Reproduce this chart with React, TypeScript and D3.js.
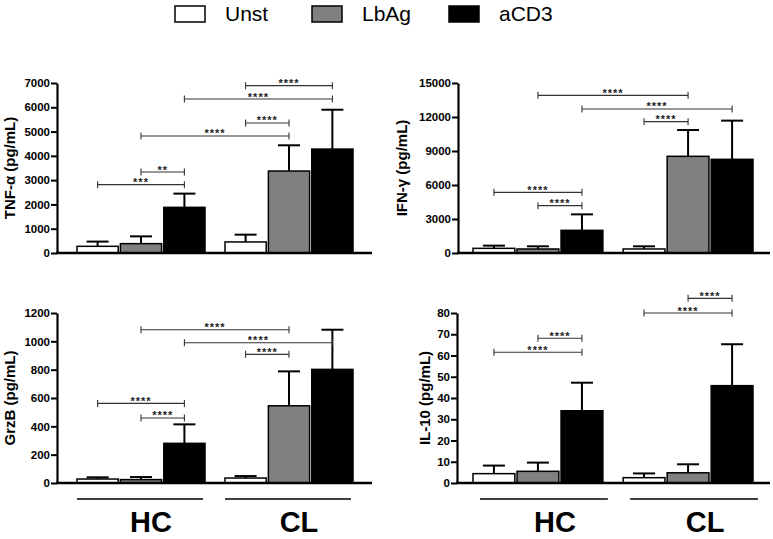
import { useEffect, useRef } from 'react';
import { select, scaleBand, scaleLinear, axisLeft } from 'd3';

// groups / stimulation series
const groups = ['HC', 'CL'];
const series = ['Unst', 'LbAg', 'aCD3'];
const seriesFill = ['#ffffff', '#808080', '#000000'];

// bar heights (mean) and top of the error bar, [group][series]
const tnfMean = [[275, 385, 1880], [455, 3375, 4280]];
const tnfUpper = [[470, 685, 2445], [755, 4435, 5900]];
const ifnMean = [[410, 355, 2000], [355, 8530, 8265]];
const ifnUpper = [[650, 590, 3410], [590, 10850, 11680]];
const grzbMean = [[28, 24, 280], [35, 545, 802]];
const grzbUpper = [[40, 42, 414], [49, 788, 1082]];
const il10Mean = [[4.4, 5.5, 34], [2.5, 4.8, 45.8]];
const il10Upper = [[8.2, 9.6, 47.2], [4.5, 8.8, 65.3]];

const tnfTicks = [0, 1000, 2000, 3000, 4000, 5000, 6000, 7000];
const ifnTicks = [0, 3000, 6000, 9000, 12000, 15000];
const grzbTicks = [0, 200, 400, 600, 800, 1000, 1200];
const il10Ticks = [0, 10, 20, 30, 40, 50, 60, 70, 80];

// significance brackets: [groupA, seriesA, groupB, seriesB, y value, stars]
type Sig = [string, string, string, string, number, string];
const tnfSig: Sig[] = [
  ['HC', 'Unst', 'HC', 'aCD3', 2814, '***'],
  ['HC', 'LbAg', 'HC', 'aCD3', 3335, '**'],
  ['HC', 'LbAg', 'CL', 'LbAg', 4818, '****'],
  ['CL', 'Unst', 'CL', 'LbAg', 5353, '****'],
  ['HC', 'aCD3', 'CL', 'aCD3', 6341, '****'],
  ['CL', 'Unst', 'CL', 'aCD3', 6890, '****'],
];
const ifnSig: Sig[] = [
  ['HC', 'Unst', 'HC', 'aCD3', 5353, '****'],
  ['HC', 'LbAg', 'HC', 'aCD3', 4176, '****'],
  ['CL', 'Unst', 'CL', 'LbAg', 11588, '****'],
  ['HC', 'aCD3', 'CL', 'aCD3', 12706, '****'],
  ['HC', 'LbAg', 'CL', 'LbAg', 13912, '****'],
];
const grzbSig: Sig[] = [
  ['HC', 'Unst', 'HC', 'aCD3', 562, '****'],
  ['HC', 'LbAg', 'HC', 'aCD3', 459, '****'],
  ['CL', 'Unst', 'CL', 'LbAg', 908, '****'],
  ['HC', 'aCD3', 'CL', 'aCD3', 990, '****'],
  ['HC', 'LbAg', 'CL', 'LbAg', 1082, '****'],
];
const il10Sig: Sig[] = [
  ['HC', 'Unst', 'HC', 'aCD3', 61.5, '****'],
  ['HC', 'LbAg', 'HC', 'aCD3', 68.1, '****'],
  ['CL', 'Unst', 'CL', 'aCD3', 80, '****'],
  ['CL', 'LbAg', 'CL', 'aCD3', 86.9, '****'],
];

const FONT = 'Arial, "Liberation Sans", Helvetica, sans-serif';

const panels = [
  { label: 'TNF-α (pg/mL)', mean: tnfMean, upper: tnfUpper, ticks: tnfTicks, sig: tnfSig,
    axisX: 57, xEnd: 372, yTop: 83, yBottom: 253, barStart: 77, barEnd: 353, labelX: 15, groupLine: false, lineShift: 0 },
  { label: 'IFN-γ (pg/mL)', mean: ifnMean, upper: ifnUpper, ticks: ifnTicks, sig: ifnSig,
    axisX: 458, xEnd: 770, yTop: 83, yBottom: 253, barStart: 473, barEnd: 753, labelX: 407, groupLine: false, lineShift: 0 },
  { label: 'GrzB (pg/mL)', mean: grzbMean, upper: grzbUpper, ticks: grzbTicks, sig: grzbSig,
    axisX: 57, xEnd: 372, yTop: 313, yBottom: 483, barStart: 77, barEnd: 353, labelX: 15, groupLine: true, lineShift: 0 },
  { label: 'IL-10 (pg/mL)', mean: il10Mean, upper: il10Upper, ticks: il10Ticks, sig: il10Sig,
    axisX: 457, xEnd: 770, yTop: 313, yBottom: 483, barStart: 473, barEnd: 753, labelX: 430, groupLine: true, lineShift: 7 },
];

export default function App() {
  const svgRef = useRef<SVGSVGElement | null>(null);

  useEffect(() => {
    if (!svgRef.current) return;
    const svg = select(svgRef.current);
    svg.selectAll('*').remove();

    // legend
    const legend = svg.append('g');
    series.forEach((s, i) => {
      const lx = 175 + i * 137;
      legend.append('rect')
        .attr('x', lx).attr('y', 6).attr('width', 30).attr('height', 16)
        .attr('fill', seriesFill[i]).attr('stroke', '#000').attr('stroke-width', 1.5);
      legend.append('text')
        .attr('x', lx + 50).attr('y', 21)
        .attr('font-family', FONT).attr('font-size', 21)
        .text(s);
    });

    panels.forEach((p) => {
      const g = svg.append('g');
      const y = scaleLinear()
        .domain([0, p.ticks[p.ticks.length - 1]])
        .range([p.yBottom, p.yTop]);
      const x0 = scaleBand<string>().domain(groups).range([p.barStart, p.barEnd]).paddingInner(0.135);
      const x1 = scaleBand<string>().domain(series).range([0, x0.bandwidth()]).paddingInner(0.05);
      const cx = (gr: string, s: string) => (x0(gr) ?? 0) + (x1(s) ?? 0) + x1.bandwidth() / 2;

      // bars + error bars
      groups.forEach((gr, gi) => {
        series.forEach((s, si) => {
          const bx = (x0(gr) ?? 0) + (x1(s) ?? 0);
          const c = bx + x1.bandwidth() / 2;
          const top = y(p.mean[gi][si]);
          const up = y(p.upper[gi][si]);
          g.append('line')
            .attr('x1', c).attr('x2', c).attr('y1', top).attr('y2', up)
            .attr('stroke', '#000').attr('stroke-width', 2);
          g.append('line')
            .attr('x1', c - 11).attr('x2', c + 11).attr('y1', up).attr('y2', up)
            .attr('stroke', '#000').attr('stroke-width', 2);
          g.append('rect')
            .attr('x', bx).attr('y', top)
            .attr('width', x1.bandwidth()).attr('height', y(0) - top)
            .attr('fill', seriesFill[si]).attr('stroke', '#000').attr('stroke-width', 1.5);
        });
      });

      // significance brackets
      p.sig.forEach(([ga, sa, gb, sb, v, stars]) => {
        const xa = cx(ga, sa);
        const xb = cx(gb, sb);
        const yy = y(v);
        const bg = g.append('g').attr('stroke', '#333').attr('stroke-width', 1.1);
        bg.append('line').attr('x1', xa).attr('x2', xb).attr('y1', yy).attr('y2', yy);
        bg.append('line').attr('x1', xa).attr('x2', xa).attr('y1', yy - 3.5).attr('y2', yy + 3.5);
        bg.append('line').attr('x1', xb).attr('x2', xb).attr('y1', yy - 3.5).attr('y2', yy + 3.5);
        g.append('text')
          .attr('x', (xa + xb) / 2).attr('y', yy + 1.5)
          .attr('text-anchor', 'middle')
          .attr('font-family', FONT).attr('font-size', 11).attr('font-weight', 'bold')
          .attr('letter-spacing', 1)
          .attr('fill', '#222')
          .text(stars);
      });

      // y axis
      const ya = g.append('g')
        .attr('transform', `translate(${p.axisX},0)`)
        .call(axisLeft(y).tickValues(p.ticks).tickSize(6).tickSizeOuter(0).tickPadding(1).tickFormat((d) => String(d)));
      ya.select('.domain').attr('stroke', '#000').attr('stroke-width', 2.2);
      ya.selectAll('.tick line').attr('stroke', '#000').attr('stroke-width', 2);
      ya.selectAll('text')
        .attr('font-family', FONT).attr('font-size', 11.5).attr('font-weight', 'bold').attr('fill', '#000');

      // x axis baseline
      g.append('line')
        .attr('x1', p.axisX - 1).attr('x2', p.xEnd).attr('y1', y(0)).attr('y2', y(0))
        .attr('stroke', '#000').attr('stroke-width', 2.5);

      // y label
      g.append('text')
        .attr('transform', `translate(${p.labelX},${(p.yTop + p.yBottom) / 2}) rotate(-90)`)
        .attr('text-anchor', 'middle')
        .attr('font-family', FONT).attr('font-size', 15).attr('font-weight', 'bold')
        .text(p.label);

      // group lines + labels
      if (p.groupLine) {
        groups.forEach((gr) => {
          const gx = (x0(gr) ?? 0) + p.lineShift;
          g.append('line')
            .attr('x1', gx).attr('x2', gx + x0.bandwidth() - 2)
            .attr('y1', 499).attr('y2', 499)
            .attr('stroke', '#000').attr('stroke-width', 1.5);
          g.append('text')
            .attr('x', gx + x0.bandwidth() / 2 + 10).attr('y', 532)
            .attr('text-anchor', 'middle')
            .attr('font-family', FONT).attr('font-size', 29).attr('font-weight', 'bold')
            .text(gr);
        });
      }
    });
  }, []);

  return (
    <svg
      ref={svgRef}
      width={773}
      height={539}
      style={{ position: 'absolute', left: 0, top: 0, background: '#fff' }}
    />
  );
}
